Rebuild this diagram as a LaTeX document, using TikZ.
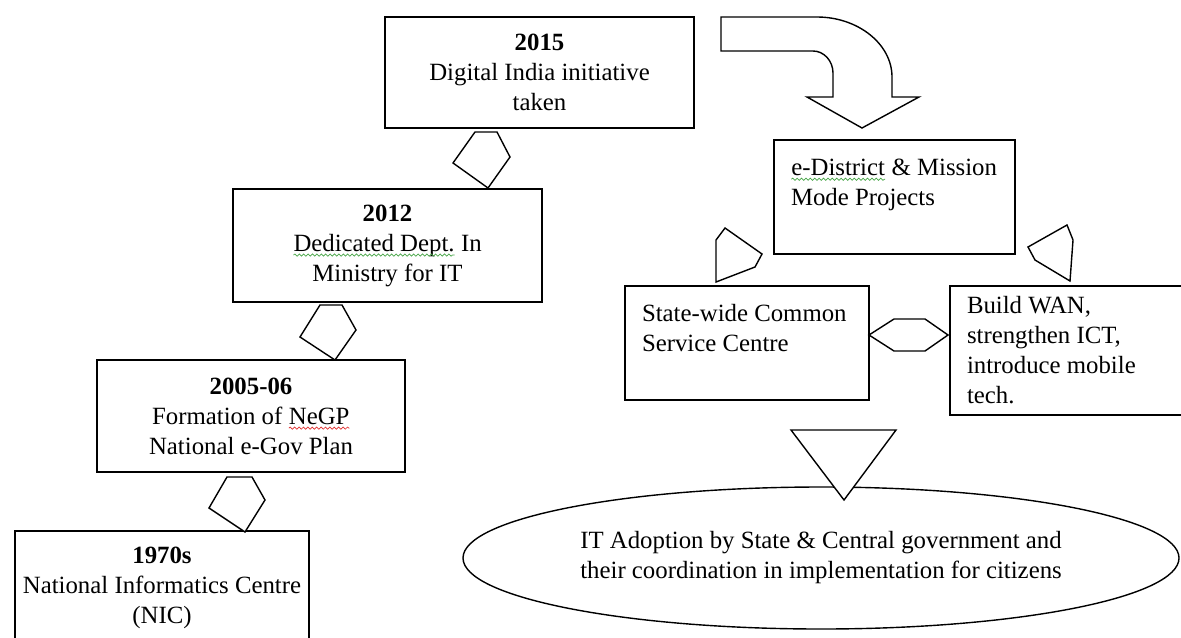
\documentclass[tikz,border=0pt]{standalone}
\usepackage{fontspec}
\setmainfont{Liberation Serif}
\usetikzlibrary{shapes.geometric}
\usetikzlibrary{decorations.pathmorphing}
\definecolor[named]{SpellGreen}{RGB}{70,165,70}
\definecolor[named]{SpellRed}{RGB}{225,45,45}
\newcommand{\boxfont}{\fontsize{12.4}{15}\selectfont}
% word with a spell-check wave under it
\newcommand{\spell}[2]{\tikz[baseline=(w.base),x=1cm,y=1cm]{%
  \node[draw=none,fill=none,inner sep=0pt,outer sep=0pt,minimum width=0pt,minimum height=0pt,text width=,align=none,shape=rectangle] (w) {#2};
  \draw[#1,line width=0.35pt,decorate,decoration={snake,amplitude=0.55pt,segment length=2.2pt}]
    ([yshift=-2pt]w.base west) -- ([yshift=-2pt]w.base east);}}
\tikzset{
  stage/.style={draw,line width=0.7pt,fill=white,inner sep=2pt,align=center,font=\boxfont},
  note/.style={draw,line width=0.7pt,fill=white,inner xsep=8.5pt,inner ysep=2pt,align=flush left,font=\boxfont},
  blk/.style={draw,line width=0.7pt,fill=white,line join=miter}
}
\begin{document}
\begin{tikzpicture}[x=0.5pt,y=-0.5pt]
  \useasboundingbox (0,0) rectangle (1181,637);
  \clip (0,0) rectangle (1181,637);
  \fill[white] (0,0) rectangle (1181,637);

  % Goal ellipse (the triangle sits on top of it)
  \node[ellipse,draw,line width=0.7pt,minimum width=358pt,minimum height=71pt,inner sep=0pt,align=center,font=\boxfont] (Goal) at (821,558)
    {IT Adoption by State \& Central government and\\their coordination in implementation for citizens};

  % Timeline (left)
  \node[stage,minimum width=154.5pt,minimum height=55.5pt] (Y15) at (539.5,72.5) {\textbf{2015}\\Digital India initiative\\taken};
  \node[stage,minimum width=154.5pt,minimum height=56.5pt] (Y12) at (387.5,245.5) {\textbf{2012}\\\spell{SpellGreen}{Dedicated Dept.} In\\Ministry for IT};
  \node[stage,minimum width=154pt,minimum height=56pt] (Y05) at (251,416) {\textbf{2005-06}\\Formation of \spell{SpellRed}{NeGP}\\National e-Gov Plan};
  \node[stage,minimum width=147pt,minimum height=56.5pt] (Y70) at (162,587.5) {\textbf{1970s}\\National Informatics Centre\\(NIC)};

  % Programmes (right)
  \node[note,minimum width=120.5pt,text width=103.5pt,minimum height=57pt] (ED) at (894.5,197) {\mbox{\spell{SpellGreen}{e-District} \& Mission}\\Mode Projects\\\mbox{}};
  \node[note,minimum width=122pt,text width=105pt,minimum height=57pt] (CSC) at (747,343) {\mbox{State-wide Common}\\Service Centre\\\mbox{}};
  \node[note,minimum width=118pt,text width=101pt,minimum height=64.5pt] (WAN) at (1068,350.5) {Build WAN,\\strengthen ICT,\\introduce mobile\\tech.};

  % Block arrows
  \draw[blk] (475,132) -- (497,132) -- (510,157) -- (488,188) -- (453,163) -- cycle;
  \draw[blk] (320,305) -- (342,305) -- (356,330) -- (335,360) -- (300,337) -- cycle;
  \draw[blk] (227,477) -- (252,477) -- (265,500) -- (245,532) -- (209,508) -- cycle;
  \draw[blk] (721,17) -- (817,17) .. controls (858,17) and (892,44) .. (892,77) -- (892,97)
    -- (919,97) -- (862,128) -- (807,97) -- (833,97) -- (833,73)
    .. controls (833,61) and (824,51) .. (813,51) -- (721,51) -- cycle;
  \draw[blk] (725,228) -- (762,254) -- (755,267) -- (716,282) -- (716,240) -- cycle;
  \draw[blk] (1067,225) -- (1073,240) -- (1070,281) -- (1035,260) -- (1028,247) -- cycle;
  \draw[blk] (869,335) -- (894,319) -- (925,319) -- (948,335) -- (925,351) -- (894,351) -- cycle;
  \draw[blk] (791,430) -- (896,430) -- (844,500) -- cycle;
\end{tikzpicture}
\end{document}
